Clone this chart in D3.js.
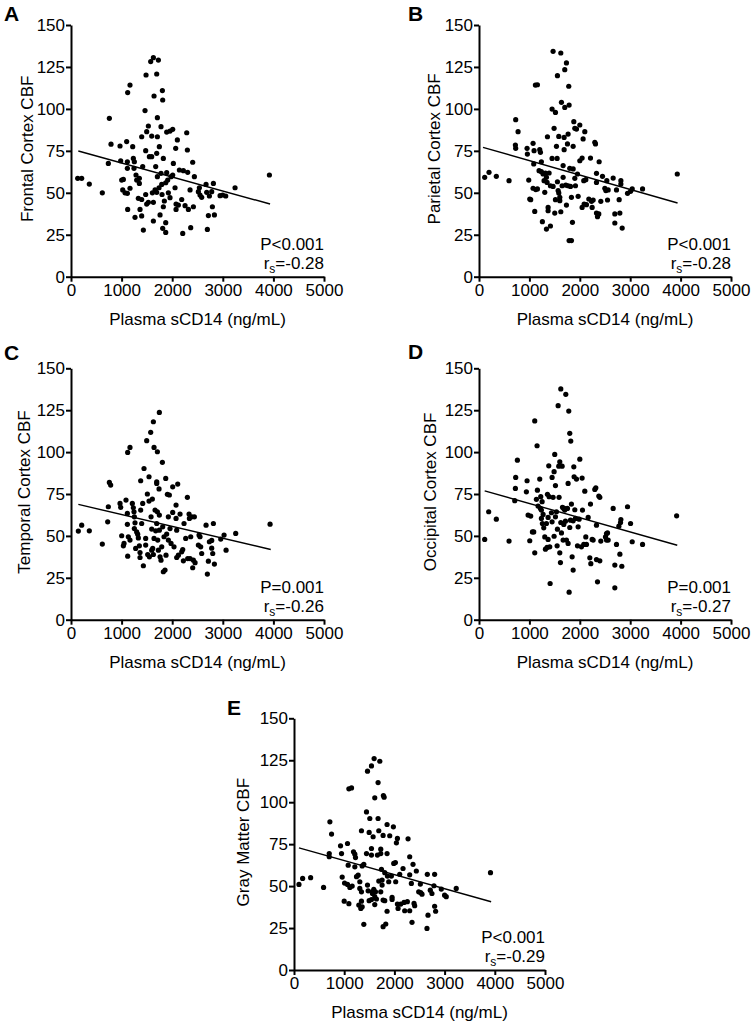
<!DOCTYPE html>
<html>
<head>
<meta charset="utf-8">
<script src="https://cdn.jsdelivr.net/npm/d3@7"></script>
<style>
  html, body { margin: 0; padding: 0; background: #fff; }
  svg { display: block; }
  text { font-family: "Liberation Sans", Arial, Helvetica, sans-serif; fill: #000; }
</style>
</head>
<body>
<svg id="chart" width="752" height="1023"></svg>
<script>
// ---------------- DATA ----------------
const xTicks = [0, 1000, 2000, 3000, 4000, 5000];
const yTicks = [0, 25, 50, 75, 100, 125, 150];
const xTitle = "Plasma sCD14 (ng/mL)";
const panelLetters = ["A", "B", "C", "D", "E"];
const yTitles = ["Frontal Cortex CBF", "Parietal Cortex CBF", "Temporal Cortex CBF", "Occipital Cortex CBF", "Gray Matter CBF"];
const pLabels = ["P<0.001", "P<0.001", "P=0.001", "P=0.001", "P<0.001"];
const rsLabels = ["=-0.28", "=-0.28", "=-0.26", "=-0.27", "=-0.29"];

// regression line endpoints [x, y]
const frontalLine = [[145, 74.9], [3934, 43.3]];
const parietalLine = [[79, 77.1], [3940, 43.9]];
const temporalLine = [[145, 68.8], [3947, 41.9]];
const occipitalLine = [[113, 76.9], [3934, 44.4]];
const grayLine = [[99, 72.8], [3927, 40.7]];

// scatter points [sCD14, CBF]
const frontalCBF = [
[132,58.6],[211,58.6],[362,55.2],[619,50],[738,67.5],[758,94.4],[791,79],[969,77.9],[982,69.1],[1002,57.6],
[1035,58],[1022,51.7],[1068,50],[1100,80.5],[1114,49.7],[1120,40.1],[1120,109.7],[1166,114.2],[1114,68.5],[1114,64.6],
[1166,52.7],[1219,77.5],[1232,70.5],[1252,68.5],[1245,64.6],[1285,60.6],[1298,57.6],[1265,35.4],[1351,58.6],[1351,55.6],
[1331,46.7],[1364,40.1],[1397,83.4],[1397,46],[1417,65.6],[1397,36.2],[1430,27.8],[1463,99],[1483,120.2],[1476,75.1],
[1496,86.4],[1476,49],[1496,43.3],[1529,89.8],[1529,44.3],[1549,71.5],[1575,128.2],[1595,83.8],[1595,71.5],[1608,50],
[1628,130.5],[1641,107.7],[1628,44.3],[1628,33.2],[1674,65.6],[1694,73.5],[1661,51.7],[1694,120.8],[1707,94.8],[1707,83.4],
[1707,59.6],[1694,50.3],[1727,129.1],[1746,77.5],[1740,53],[1760,36.8],[1779,89.4],[1779,61.6],[1793,55],[1799,49],
[1806,110.9],[1812,105.3],[1812,28.8],[1825,41.7],[1825,70.5],[1845,45.1],[1872,32.2],[1872,26.4],[1872,56],[1891,86.2],
[1891,62],[1911,57.6],[1924,50],[1957,86.8],[1957,47.1],[1977,59.6],[2010,87.8],[2010,60.6],[2023,67.5],[2056,53],
[2069,76.5],[2076,43.3],[2076,40.1],[2102,81.5],[2122,42.7],[2142,63.6],[2188,46],[2208,25.8],[2221,63.2],[2254,42.3],
[2287,85.8],[2300,75.5],[2306,62.2],[2320,40.1],[2353,51.7],[2366,29.2],[2405,68.2],[2419,41.7],[2438,59.6],[2517,50.7],
[2537,53],[2550,48.7],[2583,47.3],[2669,55],[2682,50.3],[2695,28.2],[2715,36.4],[2735,48.1],[2781,50.7],[2814,55.6],
[2794,41.7],[2834,36.8],[2946,48.3],[2998,48.7],[3058,48.1],[3242,53],[3921,60.6]
];
const parietalCBF = [
[113,59.2],[199,62.2],[344,59.8],[596,57.2],[728,93.6],[722,78.5],[728,76.5],[775,86.4],[954,76.5],[960,73.1],
[987,57.6],[1007,46.3],[1026,45.9],[1073,79.5],[1093,75.1],[1086,67.2],[1073,52.7],[1106,38.9],[1119,114.2],[1159,114.4],
[1126,51.9],[1159,52.3],[1205,75.7],[1219,74.1],[1238,68.5],[1192,63.2],[1238,62.6],[1258,32.8],[1272,61.2],[1291,57.2],
[1305,50.3],[1318,61.8],[1338,28.4],[1338,59.2],[1351,56.2],[1358,83.4],[1371,39.3],[1371,41.3],[1391,61.8],[1417,30.2],
[1417,54.2],[1450,99.9],[1450,70.5],[1470,53.8],[1470,134.3],[1490,88.4],[1503,37.9],[1517,97.9],[1517,45.9],[1537,77.7],
[1550,70.5],[1556,119.8],[1556,56.6],[1570,51.3],[1583,83.6],[1583,49.9],[1603,47.3],[1603,45.3],[1623,38.7],[1623,133.3],
[1636,103.9],[1649,54.2],[1669,66.2],[1669,59.2],[1689,75.7],[1689,83],[1702,123.4],[1702,100.9],[1735,127.4],[1722,54.6],
[1735,42.7],[1755,79.1],[1768,54.2],[1768,85],[1781,113.5],[1788,102.3],[1788,21.5],[1801,64.6],[1815,53.8],[1834,47.3],
[1834,21.5],[1854,32.4],[1868,77.7],[1868,64.2],[1881,92.4],[1901,88.4],[1901,58.6],[1914,54.2],[1934,88],[1954,61.2],
[1967,47.9],[2000,90.4],[2000,69.1],[2046,70.7],[2046,41.3],[2066,82.1],[2079,57.2],[2086,43.3],[2099,86.4],[2119,57.8],
[2132,42.9],[2179,46.3],[2212,70.7],[2232,44.9],[2245,41.3],[2265,45.7],[2298,80.1],[2311,79.1],[2331,61.6],[2331,56.2],
[2331,37.9],[2351,35.8],[2377,37.4],[2384,68.5],[2417,44.9],[2450,59.8],[2497,52.7],[2517,51.3],[2536,57.2],[2550,45.7],
[2563,51.7],[2662,58.8],[2695,37.4],[2695,32],[2728,51.7],[2781,45.9],[2795,37.9],[2815,57.2],[2815,55.2],[2841,29],
[2947,49.7],[3007,50.9],[3040,52.3],[3245,52.3],[3934,61.2]
];
const temporalCBF = [
[145,52.9],[211,56.4],[362,53],[619,45.1],[725,58.4],[738,67.4],[758,81.9],[784,80.3],[969,69.4],[982,67],
[1002,50.1],[1035,44.1],[1048,45.5],[1087,71.4],[1114,63.4],[1114,56.9],[1120,99.8],[1166,102.8],[1120,37.9],[1133,49.5],
[1166,47.5],[1212,69.4],[1232,66.8],[1245,64.4],[1252,61.4],[1265,57.8],[1252,54.4],[1278,42.5],[1298,52.4],[1318,51],
[1331,48.8],[1351,44.1],[1364,40.1],[1364,37.1],[1377,82.9],[1377,65.4],[1397,57.4],[1417,69.4],[1430,32.2],[1443,90.2],
[1476,48.5],[1476,44.5],[1496,106.8],[1509,75],[1516,38.9],[1542,85.3],[1542,70.8],[1549,37.5],[1575,111.8],[1582,61.4],
[1595,54.1],[1595,41.5],[1608,72],[1615,42.5],[1628,118.1],[1641,102.8],[1628,38.9],[1641,48.5],[1661,65.4],[1674,53],
[1694,82.3],[1694,81.3],[1707,100.2],[1707,64.4],[1694,57.4],[1714,47.5],[1727,41.5],[1746,123.7],[1740,78],[1746,62.4],
[1746,53.4],[1760,37.5],[1779,35.5],[1793,43.5],[1806,93.9],[1812,55.4],[1825,28.6],[1838,49.5],[1858,29.6],[1872,84.3],
[1878,38.5],[1891,51.1],[1905,74.8],[1924,61.4],[1924,47.5],[1944,74.4],[1957,54.4],[1977,45.5],[2010,79.3],[2010,64],
[2036,43.5],[2076,68.4],[2076,60.4],[2089,53.4],[2089,37.1],[2109,80.9],[2122,38.5],[2155,63],[2188,40.5],[2208,41.9],
[2221,35.1],[2234,57.4],[2267,48.5],[2300,73],[2306,36.5],[2333,63],[2340,60.4],[2353,36.5],[2366,49.5],[2386,61.4],
[2405,31],[2419,35.5],[2438,61.4],[2452,34],[2517,44.5],[2530,50.5],[2550,49.5],[2563,43.5],[2583,39.5],[2669,56.4],
[2695,27.2],[2715,34.9],[2735,46.5],[2781,42.7],[2781,47.3],[2801,39.5],[2814,57.4],[2834,33.2],[2959,48.1],[3025,50.5],
[3065,41.5],[3255,51.5],[3934,57]
];
const occipitalCBF = [
[113,47.9],[192,64.4],[344,60],[596,46.9],[709,71],[722,78.3],[728,84.9],[762,95.2],[940,76.3],[954,82.9],
[974,62.4],[1007,47.1],[1026,61.8],[1060,52.4],[1086,52.4],[1106,118.6],[1106,39.9],[1139,71.8],[1152,103.8],[1159,77.3],
[1172,67.8],[1205,83.9],[1219,66.4],[1225,73.4],[1238,65.4],[1238,60.4],[1252,70.4],[1258,57.4],[1272,62.8],[1285,54.8],
[1305,49.4],[1318,42.1],[1338,57.4],[1351,43.1],[1358,74.8],[1371,61],[1371,47.9],[1384,91.8],[1391,73.4],[1404,43.5],
[1411,21.6],[1437,63.8],[1450,58.4],[1450,84.9],[1470,73],[1490,88.3],[1490,49.8],[1503,98.6],[1517,80],[1517,61.4],
[1537,64.4],[1550,44.1],[1556,54],[1570,127.7],[1583,91.6],[1589,73],[1603,94.2],[1603,39.9],[1616,34.1],[1623,58],
[1623,137.7],[1636,51.8],[1649,91.6],[1656,67],[1669,47.5],[1682,56.8],[1682,66.4],[1689,66.4],[1702,65.4],[1715,58.8],
[1722,134.5],[1735,47.5],[1755,66.4],[1768,81.3],[1768,45.5],[1781,124.5],[1788,16.4],[1801,111.2],[1801,55],[1815,59.4],
[1821,106.6],[1834,69],[1848,37.5],[1868,29.6],[1868,59],[1881,91.2],[1887,85.3],[1901,65.6],[1914,60.4],[1934,83.9],
[1954,44.1],[1967,55.4],[1987,60],[2000,95.8],[2033,43.5],[2046,84.5],[2053,65.4],[2079,44.9],[2099,76.7],[2119,49.4],
[2132,44.9],[2166,61],[2199,36.9],[2212,69],[2219,33.4],[2245,47.9],[2265,47.5],[2298,77.7],[2318,78.7],[2331,56.4],
[2331,35.9],[2351,22.6],[2377,73.8],[2397,73],[2397,35.1],[2417,46.9],[2510,49.4],[2530,51.4],[2550,51.8],[2563,47.5],
[2530,47.5],[2662,66.4],[2695,32.6],[2695,19],[2728,44.9],[2775,55.8],[2795,39.1],[2815,59.8],[2808,58],[2834,31.9],
[2947,67.4],[3007,57.4],[3040,46.5],[3245,44.9],[3921,62]
];
const grayMatterCBF = [
[99,51],[172,54.6],[331,55],[589,49.2],[715,88.3],[748,81],[702,69.4],[702,67.5],[927,74],[947,69.4],
[960,55.4],[1007,51.8],[1000,41],[1093,39.5],[1066,75.4],[1080,62.5],[1093,108],[1146,108.5],[1066,51],[1113,49.2],
[1159,50],[1185,70.4],[1212,69],[1225,67],[1212,61.5],[1245,55.6],[1291,38.7],[1358,37.7],[1331,36.7],[1278,56.5],
[1311,52.6],[1311,48.6],[1344,46.6],[1344,41],[1344,83],[1391,63],[1391,27.2],[1358,62],[1444,69.4],[1444,94.2],
[1464,118.5],[1497,82],[1510,90.3],[1543,121.6],[1543,72.4],[1543,68.5],[1464,50.6],[1477,47.2],[1497,41.3],[1543,42],
[1556,46.6],[1563,45.6],[1576,79.4],[1596,126],[1609,102.6],[1609,43.7],[1589,48],[1623,46.6],[1642,42.3],[1609,39],
[1662,68.5],[1675,111.7],[1675,90.3],[1689,83],[1689,53],[1709,124.4],[1728,72],[1728,69.4],[1742,60],[1728,46.6],
[1755,50.6],[1775,41.7],[1781,104],[1795,103],[1775,80.2],[1755,53.6],[1808,58],[1808,41.3],[1775,25.8],[1828,27.4],
[1854,86.7],[1854,69.4],[1854,35],[1861,56],[1887,52.6],[1907,80],[1940,56],[1954,43.3],[1954,42],[1980,85.3],
[1987,63.5],[2020,64],[2026,52.6],[2040,75.8],[2060,78.4],[2060,39.3],[2073,36.7],[2106,57],[2126,39.3],[2172,60.5],
[2192,40.3],[2205,35.3],[2258,40.7],[2272,78.2],[2305,67.5],[2305,56.7],[2305,35.3],[2338,51.6],[2351,28.4],[2371,63],
[2391,39.7],[2404,38.3],[2437,59],[2484,46.6],[2517,51.2],[2523,46.2],[2550,45.2],[2656,57],[2669,32.7],[2649,24.8],
[2715,47.6],[2748,45.6],[2788,50.2],[2801,57],[2801,38],[2821,35],[2934,48.2],[3000,44.6],[3033,43.7],[3232,48.6],
[3914,58]
];

const seriesData = [frontalCBF, parietalCBF, temporalCBF, occipitalCBF, grayMatterCBF];
const lineData = [frontalLine, parietalLine, temporalLine, occipitalLine, grayLine];

// ---------------- LAYOUT ----------------
const layout = [
  { x0: 71,  x1: 324, yTop: 25,    yBot: 276.7, letterX: 4,   letterY: 21,  titleX: 33 },
  { x0: 479, x1: 731, yTop: 25,    yBot: 276.7, letterX: 408, letterY: 21,  titleX: 440 },
  { x0: 71,  x1: 324, yTop: 368.3, yBot: 619.7, letterX: 4,   letterY: 360, titleX: 30 },
  { x0: 479, x1: 731, yTop: 368.3, yBot: 619.7, letterX: 408, letterY: 359, titleX: 436 },
  { x0: 294, x1: 545, yTop: 718.3, yBot: 970,   letterX: 227, letterY: 715, titleX: 249 }
];

const svg = d3.select("#chart");
svg.append("rect").attr("width", 752).attr("height", 1023).attr("fill", "#fff");

layout.forEach((L, i) => {
  const x = d3.scaleLinear().domain([0, 5000]).range([L.x0, L.x1]);
  const y = d3.scaleLinear().domain([0, 150]).range([L.yBot, L.yTop]);
  const g = svg.append("g");

  // axes
  const xAxis = g.append("g").attr("transform", `translate(0,${L.yBot})`)
    .call(d3.axisBottom(x).tickValues(xTicks).tickFormat(d3.format("d")).tickSize(5).tickSizeOuter(0).tickPadding(2));
  const yAxis = g.append("g").attr("transform", `translate(${L.x0},0)`)
    .call(d3.axisLeft(y).tickValues(yTicks).tickFormat(d3.format("d")).tickSize(5).tickSizeOuter(0).tickPadding(1));
  [xAxis, yAxis].forEach(a => {
    a.select(".domain").attr("stroke", "#000").attr("stroke-width", 2);
    a.selectAll(".tick line").attr("stroke", "#000").attr("stroke-width", 2);
    a.selectAll(".tick text").attr("font-size", 17).attr("font-family", "Liberation Sans, Arial, sans-serif").attr("fill", "#000");
  });

  // regression line
  g.append("line")
    .attr("x1", x(lineData[i][0][0])).attr("y1", y(lineData[i][0][1]))
    .attr("x2", x(lineData[i][1][0])).attr("y2", y(lineData[i][1][1]))
    .attr("stroke", "#000").attr("stroke-width", 1.4);

  // points
  g.append("g").selectAll("circle").data(seriesData[i]).join("circle")
    .attr("cx", d => x(d[0])).attr("cy", d => y(d[1])).attr("r", 2.6).attr("fill", "#000");

  // x title
  g.append("text").attr("x", (L.x0 + L.x1) / 2).attr("y", L.yBot + 48)
    .attr("text-anchor", "middle").attr("font-size", 17).text(xTitle);

  // y title
  g.append("text")
    .attr("transform", `translate(${L.titleX},${(L.yTop + L.yBot) / 2 - 2}) rotate(-90)`)
    .attr("text-anchor", "middle").attr("font-size", 17).text(yTitles[i]);

  // panel letter
  g.append("text").attr("x", L.letterX).attr("y", L.letterY)
    .attr("font-size", 21).attr("font-weight", "bold").text(panelLetters[i]);

  // stats
  g.append("text").attr("x", L.x1).attr("y", L.yBot - 27)
    .attr("text-anchor", "end").attr("font-size", 17).text(pLabels[i]);
  const rt = g.append("text").attr("x", L.x1).attr("y", L.yBot - 8)
    .attr("text-anchor", "end").attr("font-size", 17);
  rt.append("tspan").text("r");
  rt.append("tspan").attr("font-size", 12).attr("dy", 4).text("s");
  rt.append("tspan").attr("dy", -4).text(rsLabels[i]);
});
</script>
</body>
</html>
